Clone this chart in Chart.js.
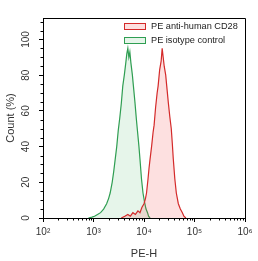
<!DOCTYPE html>
<html>
<head>
<meta charset="utf-8">
<script src="https://cdn.jsdelivr.net/npm/chart.js@4.4.0/dist/chart.umd.min.js"></script>
<style>
    html, body { margin: 0; padding: 0; background: #fff; }
</style>
</head>
<body>
<canvas id="histograma" width="258" height="261"></canvas>
<script>
// Histogramas de citometria (eixo x em log10 de PE-H)
const legendas = ['PE anti-human CD28', 'PE isotype control'];

const cd28Exp = [3.55, 3.62, 3.68, 3.73, 3.78, 3.83, 3.88, 3.92, 3.96, 4.00,
    4.03, 4.05, 4.08, 4.10, 4.12, 4.15, 4.18, 4.20, 4.23, 4.26,
    4.28, 4.31, 4.34, 4.36, 4.38, 4.40, 4.43, 4.45, 4.48, 4.51,
    4.54, 4.56, 4.58, 4.61, 4.64, 4.68, 4.72, 4.76, 4.79, 4.83];
const cd28Count = [0, 1, 2, 1, 3, 2, 4, 3, 6, 8,
    11, 14, 22, 28, 33, 40, 48, 52, 62, 70,
    74, 83, 88, 95, 90, 85, 80, 74, 65, 57,
    50, 42, 33, 22, 14, 8, 5, 3, 1, 0];

const isoExp = [2.90, 2.97, 3.02, 3.08, 3.14, 3.20, 3.26, 3.30, 3.33, 3.37,
    3.40, 3.43, 3.46, 3.49, 3.52, 3.55, 3.58, 3.61, 3.64, 3.66,
    3.68, 3.70, 3.72, 3.74, 3.77, 3.79, 3.82, 3.85, 3.87, 3.90,
    3.92, 3.95, 3.98, 4.01, 4.04, 4.07, 4.09, 4.12];
const isoCount = [0, 0.5, 1, 2, 3, 5, 8, 11, 14, 20,
    26, 33, 40, 49, 56, 64, 74, 80, 87, 92,
    95, 90, 93, 87, 80, 74, 65, 55, 49, 40,
    33, 22, 14, 9, 5, 3, 1, 0];

const xTicks = [2, 3, 4, 5, 6];
const xTickLabels = ['10²', '10³', '10⁴', '10⁵', '10⁶'];
const yTicks = [0, 20, 40, 60, 80, 100];

const fonte = '"Liberation Sans", Arial, sans-serif';

function pontos(xs, ys) {
    return xs.map(function(x, i) { return { x: x, y: ys[i] }; });
}

// moldura, ticks menores e legenda dentro da área
const molduraPlugin = {
    id: 'moldura',
    afterDraw(chart) {
        const ctx = chart.ctx;
        const a = chart.chartArea;
        const sx = chart.scales.x;
        const sy = chart.scales.y;
        ctx.save();
        ctx.strokeStyle = '#000';
        ctx.lineWidth = 1;
        ctx.beginPath();
        ctx.moveTo(a.left, a.top + 0.5);
        ctx.lineTo(a.right + 0.5, a.top + 0.5);
        ctx.lineTo(a.right + 0.5, a.bottom);
        // ticks menores
        for (let n = 2; n < 6; n++) {
            for (let k = 2; k <= 9; k++) {
                const px = Math.round(sx.getPixelForValue(n + Math.log10(k))) + 0.5;
                ctx.moveTo(px, a.bottom);
                ctx.lineTo(px, a.bottom + 2.5);
            }
        }
        for (let v = 5; v < sy.max; v += 5) {
            if (v % 20 === 0) continue;
            const py = Math.round(sy.getPixelForValue(v)) + 0.5;
            ctx.moveTo(a.left, py);
            ctx.lineTo(a.left - 2.5, py);
        }
        ctx.stroke();

        // legenda
        ctx.font = '9.2px ' + fonte;
        ctx.textBaseline = 'middle';
        ctx.textAlign = 'left';
        chart.data.datasets.forEach(function(ds, i) {
            const bx = a.left + 81;
            const by = a.top + 5 + i * 14;
            ctx.fillStyle = ds.backgroundColor;
            ctx.fillRect(bx, by, 21, 6);
            ctx.strokeStyle = ds.borderColor;
            ctx.strokeRect(bx + 0.5, by + 0.5, 21, 6);
            ctx.fillStyle = '#222';
            ctx.fillText(ds.label, bx + 27, by + 3.5);
        });
        ctx.restore();
    }
};

const ctx = document.getElementById('histograma').getContext('2d');
new Chart(ctx, {
    type: 'line',
    data: {
        datasets: [{
            label: legendas[0],
            data: pontos(cd28Exp, cd28Count),
            borderColor: '#d42a2a',
            backgroundColor: 'rgba(240, 60, 60, 0.16)',
            borderWidth: 1.2,
            pointRadius: 0,
            fill: 'origin',
            tension: 0
        }, {
            label: legendas[1],
            data: pontos(isoExp, isoCount),
            borderColor: '#2f9e52',
            backgroundColor: 'rgba(60, 180, 90, 0.13)',
            borderWidth: 1.2,
            pointRadius: 0,
            fill: 'origin',
            tension: 0
        }]
    },
    options: {
        responsive: false,
        animation: false,
        layout: { padding: { top: 18, right: 13, left: 0, bottom: 0 } },
        plugins: {
            legend: { display: false },
            tooltip: { enabled: false }
        },
        scales: {
            x: {
                type: 'linear',
                min: 2,
                max: 6,
                afterBuildTicks: function(scale) {
                    scale.ticks = xTicks.map(function(v) { return { value: v }; });
                },
                afterFit: function(scale) { scale.height = 43; },
                ticks: {
                    padding: 4,
                    color: '#333',
                    font: { family: fonte, size: 10 },
                    maxRotation: 0,
                    callback: function(v) {
                        return xTickLabels[xTicks.indexOf(v)];
                    }
                },
                grid: { drawOnChartArea: false, tickLength: 4, color: '#000' },
                border: { color: '#000' },
                title: {
                    display: true,
                    text: 'PE-H',
                    color: '#333',
                    font: { family: fonte, size: 11 },
                    padding: { top: 3, bottom: 0 }
                }
            },
            y: {
                min: 0,
                max: 112,
                afterBuildTicks: function(scale) {
                    scale.ticks = yTicks.map(function(v) { return { value: v }; });
                },
                afterFit: function(scale) { scale.width = 43; },
                ticks: {
                    minRotation: 90,
                    maxRotation: 90,
                    crossAlign: 'center',
                    padding: 4,
                    color: '#333',
                    font: { family: fonte, size: 10 }
                },
                grid: { drawOnChartArea: false, tickLength: 4, color: '#000' },
                border: { color: '#000' },
                title: {
                    display: true,
                    text: 'Count (%)',
                    color: '#333',
                    font: { family: fonte, size: 11 },
                    padding: { top: 4, bottom: 0 }
                }
            }
        }
    },
    plugins: [molduraPlugin]
});
</script>
</body>
</html>
